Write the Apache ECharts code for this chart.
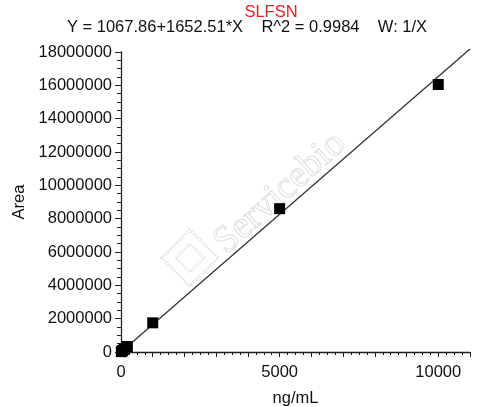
<!DOCTYPE html>
<html><head><meta charset="utf-8">
<script src="https://cdn.jsdelivr.net/npm/echarts@6/dist/echarts.min.js"></script>
<style>html,body{margin:0;padding:0;background:#fff;}#c{width:500px;height:407px;}</style>
</head><body><div id="c"></div>
<script>
var titleText = 'SLFSN';
var equationText = 'Y = 1067.86+1652.51*X    R^2 = 0.9984    W: 1/X';
var concentrations = [10, 20, 50, 100, 200, 1000, 5000, 10000];
var areas = [20000, 40000, 90000, 170000, 330000, 1750000, 8600000, 16050000];
var fitIntercept = 1067.86;
var fitSlope = 1652.51;
var fitRange = [0, 11000];
var xLabelTicks = [0, 5000, 10000];

var pts = concentrations.map(function(x, i){ return [x, areas[i]]; });
var fit = fitRange.map(function(x){ return [x, fitIntercept + fitSlope * x]; });

var chart = echarts.init(document.getElementById('c'));
var font = 'Liberation Sans, Arial, sans-serif';
var axisColor = '#222';
chart.setOption({
  animation:false,
  graphic:[
    {type:'text', x:271, y:12, style:{text:titleText, fill:'#e8202a', font:'16.5px Liberation Sans, Arial, sans-serif', textAlign:'center', textVerticalAlign:'middle'}},
    {type:'text', x:247, y:27, style:{text:equationText, fill:'#111', font:'16.5px Liberation Sans, Arial, sans-serif', textAlign:'center', textVerticalAlign:'middle'}},
    {type:'text', x:280, y:193, rotation:Math.PI/4.3, z:0,
      style:{text:'Servicebio', fill:'rgba(0,0,0,0)', stroke:'#e0e0e0', lineWidth:1,
      font:'38px Liberation Serif, serif', textAlign:'center', textVerticalAlign:'middle'}},
    {type:'rect', x:190, y:258, rotation:Math.PI/4, z:0,
      shape:{x:-20, y:-20, width:40, height:40},
      style:{fill:'none', stroke:'#e2e2e2', lineWidth:3, lineDash:[1.5,1.5]}},
    {type:'rect', x:190, y:258, rotation:Math.PI/4, z:0,
      shape:{x:-10, y:-10, width:20, height:20},
      style:{fill:'none', stroke:'#e6e6e6', lineWidth:3, lineDash:[1.5,1.5]}}
  ],
  grid:{left:121, right:30, top:52, bottom:55, outerBoundsMode:'none'},
  xAxis:{type:'value', min:0, max:11000, interval:1000,
    name:'ng/mL', nameLocation:'middle', nameGap:38,
    nameTextStyle:{color:'#111', fontSize:16.5, fontFamily:font},
    axisLine:{show:true, lineStyle:{color:axisColor, width:1.3}},
    axisTick:{show:true, length:5, lineStyle:{color:axisColor}},
    minorTick:{show:true, splitNumber:4, length:3, lineStyle:{color:axisColor}},
    splitLine:{show:false},
    axisLabel:{color:'#111', fontSize:16.5, fontFamily:font, margin:12,
      formatter:function(v){ return xLabelTicks.indexOf(v) >= 0 ? String(v) : ''; }}},
  yAxis:{type:'value', min:0, max:18000000, interval:2000000,
    name:'Area', nameLocation:'middle', nameGap:91, nameRotate:90,
    nameTextStyle:{color:'#111', fontSize:16.5, fontFamily:font},
    axisLine:{show:true, lineStyle:{color:axisColor, width:1.3}},
    axisTick:{show:true, length:6, lineStyle:{color:axisColor}},
    minorTick:{show:true, splitNumber:4, length:4, lineStyle:{color:axisColor}},
    splitLine:{show:false},
    axisLabel:{color:'#111', fontSize:16.5, fontFamily:font, margin:9,
      formatter:function(v){ return String(v); }}},
  series:[
    {type:'line', data:fit, showSymbol:false, symbol:'none', clip:false,
      lineStyle:{color:'#333', width:1.3}, z:2},
    {type:'scatter', data:pts, symbol:'rect', symbolSize:11,
      itemStyle:{color:'#000', opacity:1}, z:3}
  ]
});
</script></body></html>
